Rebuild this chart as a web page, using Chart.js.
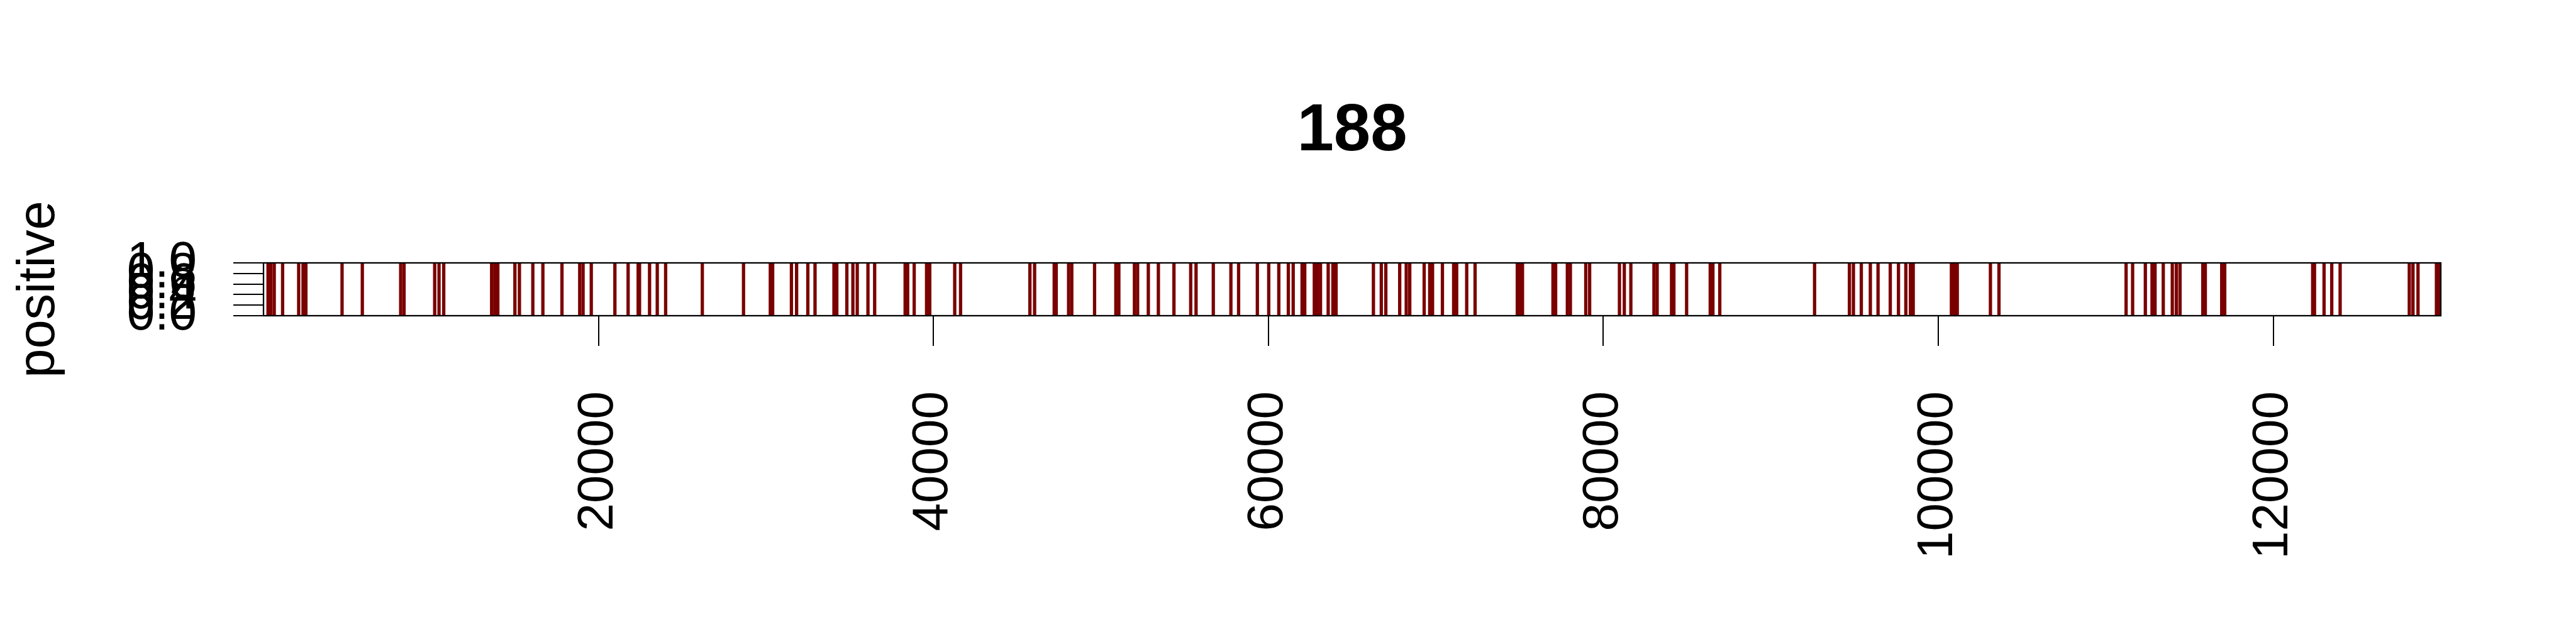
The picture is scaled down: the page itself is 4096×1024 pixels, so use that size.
<!DOCTYPE html>
<html>
<head>
<meta charset="utf-8">
<title>188</title>
<script src="https://cdn.jsdelivr.net/npm/chart.js@4.4.1/dist/chart.umd.min.js"></script>
<style>
  html, body { margin: 0; padding: 0; background: #fff; }
  canvas { display: block; }
</style>
</head>
<body>
<canvas id="track_chart" width="4096" height="1024"></canvas>
<script>
// -------------------------------
// Data
// -------------------------------
const chartTitle = "188";
const yTitle = "positive";
const xTickValues = [20000, 40000, 60000, 80000, 100000, 120000];
const yTickValues = [0, 0.2, 0.4, 0.6, 0.8, 1.0];

// positions flagged positive along the track
const positiveSites = [
  270, 440, 640, 1140, 2100, 2360, 2530, 4690, 5900, 8190, 8390, 10220, 10480,
  10760, 13620, 13810, 13990, 15010, 15280, 16080, 16680, 17820, 18880, 19080,
  19570,
  20980, 21770, 22370, 22450, 23050, 23510, 24010, 26200, 28660, 30260, 30400,
  31520, 31830, 32500, 32930, 34060, 34230, 34830, 35190, 35450, 36090, 36490,
  38310, 38460, 38850, 39590, 39780, 41270, 41620,
  45760, 46040, 47210, 47330, 48070, 48260, 49620, 50890, 51070, 52000, 52190,
  52830, 53430, 54360, 55360, 55680, 56710, 57760, 58220, 59340, 60020, 60620,
  61190, 61480, 62010, 62170, 62740, 62920, 63110, 63570, 63850, 64040,
  66270, 66740, 67010, 67840, 68230, 68440, 69300, 69630, 69800, 70390, 71060,
  71240, 71840, 72340, 74860, 75050, 75170, 76990, 77150, 77850, 78030, 78950,
  79180, 80960, 81250, 81640, 83020, 83210, 84070, 84210, 84970, 86380, 86540,
  86950,
  92610, 94690, 94930, 95400, 95940, 96400, 97130, 97620, 98060, 98330, 98500,
  100780, 100950, 101130, 103110, 103620,
  111210, 111600, 112360, 112760, 112940, 113430, 113970, 114210, 114430,
  115790, 115940, 116920, 117100, 122350, 122460, 123030, 123490, 123990,
  128120, 128340, 128640, 129740, 129900,
];

const FONT = "'Liberation Sans', Arial, Helvetica, sans-serif";

// -------------------------------
// Box round the plot region
// -------------------------------
const frameBox = {
  id: "frameBox",
  afterDatasetsDraw(chart) {
    const { ctx, chartArea: a } = chart;
    ctx.save();
    ctx.strokeStyle = "#000";
    ctx.lineWidth = 2.3;
    ctx.strokeRect(a.left, a.top, a.right - a.left, a.bottom - a.top);
    ctx.restore();
  },
};

// -------------------------------
// Build chart
// -------------------------------
function renderTrack() {
  const ctx = document.getElementById("track_chart");

  new Chart(ctx, {
    type: "bar",
    data: {
      datasets: [
        {
          data: positiveSites.map((p) => ({ x: p, y: 1 })),
          backgroundColor: "#7a0000",
          borderWidth: 0,
          barThickness: 4.6,
        },
      ],
    },
    options: {
      responsive: false,
      animation: false,
      devicePixelRatio: 1,
      layout: { padding: { left: 0, right: 215, top: 0, bottom: 0 } },
      plugins: {
        legend: { display: false },
        tooltip: { enabled: false },
        title: {
          display: true,
          text: chartTitle,
          fullSize: false,
          color: "#000",
          font: { family: FONT, size: 105, weight: "bold", lineHeight: 1.2 },
          padding: { top: 147, bottom: 145 },
        },
      },
      scales: {
        x: {
          type: "linear",
          min: 0,
          max: 130000,
          offset: false,
          afterBuildTicks: (s) => {
            s.ticks = xTickValues.map((v) => ({ value: v }));
          },
          afterFit: (s) => {
            s.height = 522;
          },
          grid: {
            offset: false,
            drawOnChartArea: false,
            drawTicks: true,
            tickLength: 48,
            color: "#000",
            lineWidth: 2,
          },
          border: { display: false },
          ticks: {
            autoSkip: false,
            minRotation: 90,
            maxRotation: 90,
            padding: 72,
            color: "#000",
            font: { family: FONT, size: 80 },
            callback: (v) => String(v),
          },
        },
        y: {
          min: 0,
          max: 1,
          afterBuildTicks: (s) => {
            s.ticks = yTickValues.map((v) => ({ value: v }));
          },
          afterFit: (s) => {
            s.width = 419;
          },
          grid: {
            drawOnChartArea: false,
            drawTicks: true,
            tickLength: 48,
            color: "#000",
            lineWidth: 2,
          },
          border: { display: false },
          ticks: {
            autoSkip: false,
            padding: 58,
            color: "#000",
            font: { family: FONT, size: 80 },
            callback: (v) => v.toFixed(1),
          },
          title: {
            display: true,
            text: yTitle,
            color: "#000",
            font: { family: FONT, size: 83, lineHeight: 1.2 },
            padding: { top: 13, bottom: 0 },
          },
        },
      },
    },
    plugins: [frameBox],
  });
}

document.addEventListener("DOMContentLoaded", renderTrack);
</script>
</body>
</html>
